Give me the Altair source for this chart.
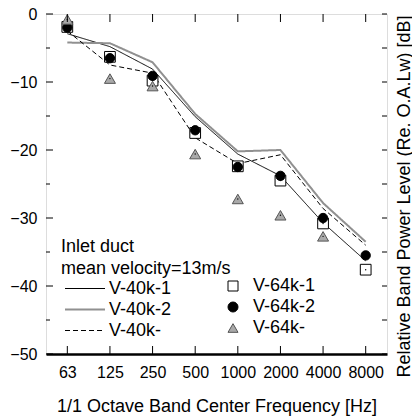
import altair as alt
import pandas as pd

# ---- data ----
freqs = ["63", "125", "250", "500", "1000", "2000", "4000", "8000"]

line_names = ["V-40k-1", "V-40k-2", "V-40k-"]
v40k_1 = [-2.9, -4.8, -8.1, -15.1, -20.6, -23.8, -30.7, -36.3]
v40k_2 = [-4.2, -4.3, -7.1, -14.7, -20.2, -20.0, -27.8, -33.5]
v40k_d = [-2.5, -7.5, -8.7, -18.2, -22.0, -20.7, -28.6, -34.0]

marker_names = ["V-64k-1", "V-64k-2", "V-64k-"]
v64k_1 = [-1.9, -6.3, -9.8, -17.5, -22.4, -24.5, -30.8, -37.6]
v64k_2 = [-2.0, -6.5, -9.1, -17.1, -22.5, -23.8, -30.0, -35.5]
v64k_d = [-0.8, -9.5, -10.6, -20.6, -27.2, -29.6, -32.7, None]

y_major = [0, -10, -20, -30, -40, -50]
y_minor = [-5, -15, -25, -35, -45]
y_all = sorted(y_major + y_minor)

legend_title = ["Inlet duct", "mean velocity=13m/s"]
x_title = "1/1 Octave Band Center Frequency [Hz]"
y_title = "Relative Band Power Level (Re. O.A.Lw) [dB]"

# ---- tables ----
rows = []
for name, vals in zip(line_names, [v40k_1, v40k_2, v40k_d]):
    for f, v in zip(freqs, vals):
        rows.append({"freq": f, "value": v, "line": name})
line_df = pd.DataFrame(rows)


def marker_table(name, vals):
    return pd.DataFrame(
        [{"freq": f, "value": v, "marker": name} for f, v in zip(freqs, vals) if v is not None]
    )


sq_df = marker_table(marker_names[0], v64k_1)
ci_df = marker_table(marker_names[1], v64k_2)
tr_df = marker_table(marker_names[2], v64k_d)

freq_df = pd.DataFrame({"freq": freqs})
major_df = pd.DataFrame({"v": y_major})
minor_df = pd.DataFrame({"v": y_minor})
all_df = pd.DataFrame({"v": y_all})

W, H = 341, 340
FONT = "Liberation Sans"

xscale = alt.Scale(type="point", domain=freqs, padding=0.5)
yscale = alt.Scale(domain=[-50, 0], nice=False, zero=False)

x_axis = alt.Axis(
    title=x_title, labelAngle=0, labelFontSize=16, labelFont=FONT, labelColor="black",
    labelPadding=10, ticks=False, tickSize=0, grid=False,
    domain=True, domainColor="black", domainWidth=2.5,
    titleFontSize=18, titleFont=FONT, titleFontWeight="normal", titleColor="black",
    titleX=W / 2, titleY=57, titleAlign="center", titleBaseline="alphabetic",
)
y_axis_left = alt.Axis(
    values=y_major, title=None, ticks=False, tickSize=0, domain=False, grid=False,
    labelPadding=9, labelFontSize=16, labelFont=FONT, labelColor="black", format="d",
)
y_axis_right = alt.Axis(
    orient="right", title=y_title, labels=False, ticks=False, tickSize=0,
    domain=False, grid=False, titleAngle=270, titleX=22, titleY=182,
    titleAlign="center", titleBaseline="alphabetic", titleFontSize=18,
    titleFont=FONT, titleFontWeight="normal", titleColor="black",
)

line_legend = alt.Legend(
    title=legend_title, orient="none", legendX=15, legendY=224,
    symbolType="M-1,0H7", symbolSize=100, labelOffset=30,
    labelFontSize=18, labelFont=FONT, labelColor="black", labelLimit=300,
    titleFontSize=18, titleFont=FONT, titleFontWeight="normal", titleColor="black",
    titleLineHeight=21.5, titlePadding=2, titleLimit=400, rowPadding=3, padding=0,
)
pt_legend = alt.Legend(
    title=None, orient="none", legendX=178, legendY=263,
    symbolSize=100, labelOffset=11, labelFontSize=18, labelFont=FONT,
    labelColor="black", rowPadding=3, padding=0, symbolStrokeWidth=1,
    symbolOpacity=1, labelLimit=300,
)

X = alt.X("freq:O", scale=xscale, axis=x_axis)

lines = alt.Chart(line_df).mark_line().encode(
    x=X,
    y=alt.Y("value:Q", scale=yscale, axis=y_axis_left),
    color=alt.Color("line:N", scale=alt.Scale(domain=line_names, range=["#000000", "#909090", "#000000"]), legend=line_legend),
    strokeDash=alt.StrokeDash("line:N", scale=alt.Scale(domain=line_names, range=[[1, 0], [1, 0], [5, 3]]), legend=line_legend),
    strokeWidth=alt.StrokeWidth("line:N", scale=alt.Scale(type="ordinal", domain=line_names, range=[1, 2, 1]), legend=line_legend),
)

shape_enc = alt.Shape("marker:N", scale=alt.Scale(domain=marker_names, range=["square", "circle", "triangle-up"]), legend=pt_legend)
fill_enc = alt.Fill("marker:N", scale=alt.Scale(domain=marker_names, range=["#ffffff", "#000000", "#a9a9a9"]), legend=pt_legend)
stroke_enc = alt.Stroke("marker:N", scale=alt.Scale(domain=marker_names, range=["#000000", "#000000", "#555555"]), legend=pt_legend)


def marker_layer(df, size):
    return alt.Chart(df).mark_point(filled=True, opacity=1, strokeWidth=1, size=size).encode(
        x=X, y=alt.Y("value:Q", scale=yscale, axis=None),
        shape=shape_enc, fill=fill_enc, stroke=stroke_enc,
    )


def dot_layer(df):
    return alt.Chart(df).mark_circle(color="black", size=2, opacity=1).encode(
        x=X, y=alt.Y("value:Q", scale=yscale, axis=None),
    )


squares = marker_layer(sq_df, 115)
circles = marker_layer(ci_df, 87)
triangles = marker_layer(tr_df, 121)

top_ticks = alt.Chart(freq_df).mark_rule(color="black", strokeWidth=1).encode(
    x=X, y=alt.value(0), y2=alt.value(8))
bottom_ticks = alt.Chart(freq_df).mark_rule(color="black", strokeWidth=1).encode(
    x=X, y=alt.value(H - 8), y2=alt.value(H))
left_major = alt.Chart(major_df).mark_rule(color="black", strokeWidth=1).encode(
    y=alt.Y("v:Q", scale=yscale, axis=None), x=alt.value(0), x2=alt.value(7))
left_minor = alt.Chart(minor_df).mark_rule(color="black", strokeWidth=1).encode(
    y=alt.Y("v:Q", scale=yscale, axis=None), x=alt.value(0), x2=alt.value(4))
right_ticks = alt.Chart(all_df).mark_rule(color="black", strokeWidth=1).encode(
    y=alt.Y("v:Q", scale=yscale, axis=y_axis_right), x=alt.value(W - 5), x2=alt.value(W))

chart = alt.layer(
    lines, squares, dot_layer(sq_df), circles, triangles, dot_layer(tr_df),
    top_ticks, bottom_ticks, left_major, left_minor, right_ticks,
).resolve_axis(y="independent").properties(
    width=W, height=H,
    autosize=alt.AutoSizeParams(type="none"),
    padding={"left": 46, "top": 14, "right": 25, "bottom": 62},
    background="white",
).configure_view(stroke="black", strokeWidth=1.5).configure(font=FONT)

chart.save("out.html", embed_options={"renderer": "svg", "actions": False})
